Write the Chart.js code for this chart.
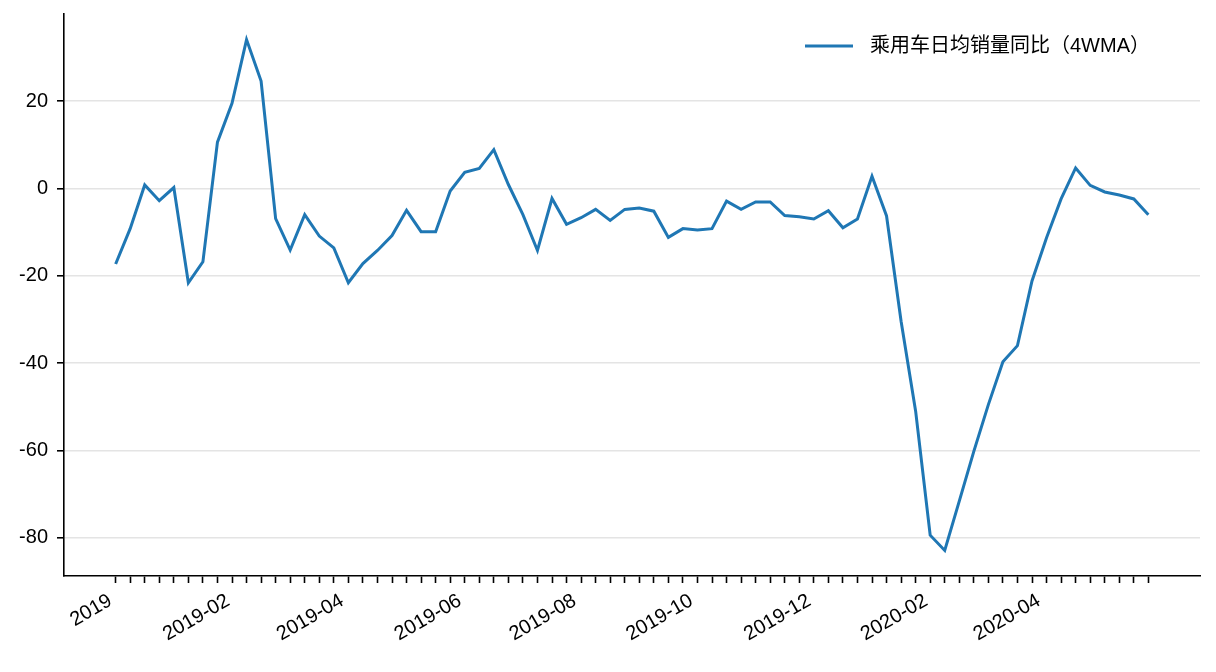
<!DOCTYPE html>
<html>
<head>
<meta charset="utf-8">
<script src="https://cdn.jsdelivr.net/npm/chart.js@4/dist/chart.umd.min.js"></script>
<style>
  body { margin: 0; background: #fff; }
  #wrap { width: 1216px; height: 672px; }
</style>
</head>
<body>
<div id="wrap"><canvas id="chart" width="1216" height="672"></canvas></div>
<script>
// series name (legend)
var seriesName = "乘用车日均销量同比（4WMA）";

// weekly values (72 points)
var yoyValues = [
  -17.3, -9.2, 0.8, -2.8, 0.2, -21.6, -16.8, 10.6, 19.5, 34.1,
  24.6, -6.9, -14.1, -6.0, -10.9, -13.6, -21.6, -17.2, -14.2, -10.8,
  -5.0, -9.9, -9.9, -0.6, 3.7, 4.6, 8.9, 0.9, -6.0, -14.2,
  -2.3, -8.2, -6.7, -4.8, -7.3, -4.8, -4.5, -5.2, -11.2, -9.2,
  -9.5, -9.2, -2.9, -4.8, -3.1, -3.1, -6.2, -6.5, -7.0, -5.1,
  -9.0, -7.0, 2.8, -6.3, -30.4, -51.0, -79.4, -82.9, -71.6, -60.2,
  -49.5, -39.7, -36.0, -21.2, -11.3, -2.4, 4.7, 0.7, -0.8, -1.5,
  -2.4, -6.0
];

// date labels and where they fall (in week-index units)
var xLabelText = ["2019", "2019-02", "2019-04", "2019-06", "2019-08", "2019-10", "2019-12", "2020-02", "2020-04"];
var xLabelPos = [-0.36, 7.74, 15.57, 23.67, 31.56, 39.59, 47.69, 55.72, 63.47];

var yTicks = [20, 0, -20, -40, -60, -80];

var fontFamily = "'Liberation Sans', 'Noto Sans CJK SC', Arial, sans-serif";
Chart.defaults.font.family = fontFamily;
Chart.defaults.font.size = 20;
Chart.defaults.color = "#000";

var points = yoyValues.map(function (v, i) {
  return { x: i, y: v };
});

// matplotlib-like 5% margins
var n = yoyValues.length;
var xMin = -0.05 * (n - 1);
var xMax = (n - 1) * 1.05;
var dMin = Math.min.apply(null, yoyValues);
var dMax = Math.max.apply(null, yoyValues);
var yMin = dMin - 0.05 * (dMax - dMin);
var yMax = dMax + 0.05 * (dMax - dMin);

// legend drawn inside the plot, upper right, no frame
var legendInside = {
  id: "legendInside",
  afterDraw: function (chart) {
    var ctx = chart.ctx;
    var area = chart.chartArea;
    var ds = chart.data.datasets[0];
    var tx = area.right - 330;
    var ty = area.top + 32;
    ctx.save();
    ctx.strokeStyle = ds.borderColor;
    ctx.lineWidth = 3;
    ctx.beginPath();
    ctx.moveTo(tx - 65, ty);
    ctx.lineTo(tx - 17, ty);
    ctx.stroke();
    ctx.font = "20px " + fontFamily;
    ctx.fillStyle = "#000";
    ctx.textBaseline = "middle";
    ctx.textAlign = "left";
    ctx.fillText(ds.label, tx, ty);
    ctx.restore();
  }
};

new Chart(document.getElementById("chart"), {
  type: "line",
  data: {
    datasets: [{
      label: seriesName,
      data: points,
      borderColor: "#1f77b4",
      backgroundColor: "#1f77b4",
      borderWidth: 3,
      pointRadius: 0,
      tension: 0,
      fill: false
    }]
  },
  options: {
    responsive: false,
    animation: false,
    layout: { padding: { top: 14, right: 16, left: 0, bottom: 0 } },
    plugins: {
      legend: { display: false },
      tooltip: { enabled: false }
    },
    scales: {
      x: {
        type: "linear",
        min: xMin,
        max: xMax,
        afterBuildTicks: function (scale) {
          var t = [];
          for (var i = 0; i < n; i++) t.push({ value: i });
          xLabelPos.forEach(function (p) { t.push({ value: p }); });
          t.sort(function (a, b) { return a.value - b.value; });
          scale.ticks = t;
        },
        afterFit: function (scale) {
          scale.height = 96;
          scale.paddingLeft = 0;
          scale.paddingRight = 0;
        },
        grid: {
          drawOnChartArea: false,
          drawTicks: true,
          tickLength: 7,
          tickWidth: 1.6,
          // tick marks only at the weekly points, none under the date labels
          tickColor: function (c) {
            return c.tick && Number.isInteger(c.tick.value) ? "#000" : "rgba(0,0,0,0)";
          }
        },
        border: { display: true, color: "#000", width: 1.6 },
        ticks: {
          autoSkip: false,
          minRotation: 30,
          maxRotation: 30,
          padding: 6,
          color: "#000",
          callback: function (value) {
            var k = xLabelPos.indexOf(value);
            return k >= 0 ? xLabelText[k] : "";
          }
        }
      },
      y: {
        min: yMin,
        max: yMax,
        afterBuildTicks: function (scale) {
          scale.ticks = yTicks.map(function (v) { return { value: v }; });
        },
        afterFit: function (scale) {
          scale.width = 64;
          scale.paddingTop = 0;
          scale.paddingBottom = 0;
        },
        grid: {
          color: "#e4e4e4",
          lineWidth: 1.6,
          tickColor: "#000",
          tickLength: 7,
          tickWidth: 1.6
        },
        border: { display: true, color: "#000", width: 1.6 },
        ticks: { padding: 9, color: "#000" }
      }
    }
  },
  plugins: [legendInside]
});
</script>
</body>
</html>
